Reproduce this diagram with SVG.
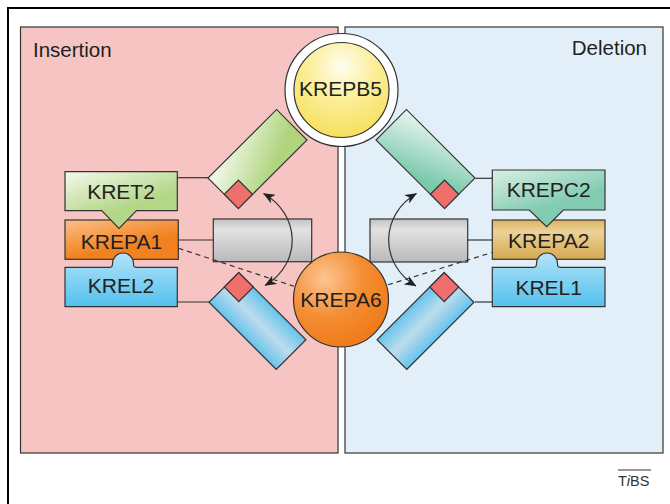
<svg xmlns="http://www.w3.org/2000/svg" width="670" height="504" viewBox="0 0 670 504">
<defs>
<style>
.lbl{font-family:"Liberation Sans",Arial,sans-serif;font-size:21px;fill:#231f20;text-anchor:middle}
.ttl{font-family:"Liberation Sans",Arial,sans-serif;font-size:20.5px;fill:#231f20}
.edge{stroke:#333;stroke-width:1.2}
.conn{stroke:#333;stroke-width:1.2;fill:none}
.red{fill:#ee6f6c;stroke:#333;stroke-width:1.2}
</style>
<marker id="ah" viewBox="0 0 12 10" refX="11.5" refY="5" markerWidth="12" markerHeight="10" markerUnits="userSpaceOnUse" orient="auto-start-reverse">
<path d="M0,0 L12,5 L0,10 L3.5,5 Z" fill="#222"/>
</marker>
<radialGradient id="gYel" cx="0.5" cy="0.25" r="0.75">
<stop offset="0" stop-color="#fffdf2"/><stop offset="0.45" stop-color="#fcef9c"/><stop offset="1" stop-color="#f6df5e"/>
</radialGradient>
<radialGradient id="gOra" cx="0.33" cy="0.28" r="0.75">
<stop offset="0" stop-color="#fcc592"/><stop offset="0.55" stop-color="#f48d32"/><stop offset="1" stop-color="#ef7b1a"/>
</radialGradient>
<linearGradient id="gGrn" x1="0" y1="0" x2="0.45" y2="0.7">
<stop offset="0" stop-color="#f4f9ee"/><stop offset="1" stop-color="#b3d786"/>
</linearGradient>
<linearGradient id="gTeal" x1="0" y1="0" x2="0.45" y2="0.7">
<stop offset="0" stop-color="#d9efe5"/><stop offset="1" stop-color="#80cbb1"/>
</linearGradient>
<linearGradient id="gOrB" x1="0" y1="0" x2="0.45" y2="0.7">
<stop offset="0" stop-color="#fcc08a"/><stop offset="1" stop-color="#f28220"/>
</linearGradient>
<linearGradient id="gTan" x1="0" y1="0" x2="0" y2="1">
<stop offset="0" stop-color="#dcb462"/><stop offset="0.3" stop-color="#edd197"/><stop offset="1" stop-color="#d4a84f"/>
</linearGradient>
<linearGradient id="gBlu" x1="0" y1="0" x2="0" y2="1">
<stop offset="0" stop-color="#b5e3f8"/><stop offset="1" stop-color="#52c1ee"/>
</linearGradient>
<linearGradient id="gGray" x1="0" y1="0" x2="0" y2="1">
<stop offset="0" stop-color="#c2c2c2"/><stop offset="0.25" stop-color="#e2e2e2"/><stop offset="1" stop-color="#b9b9b9"/>
</linearGradient>
<linearGradient id="gRG" x1="0" y1="0" x2="0.75" y2="0.75">
<stop offset="0" stop-color="#f6faf0"/><stop offset="1" stop-color="#afd47d"/>
</linearGradient>
<linearGradient id="gRT" x1="0" y1="0" x2="0.75" y2="0.75">
<stop offset="0" stop-color="#eaf6f1"/><stop offset="1" stop-color="#7ccaae"/>
</linearGradient>
<linearGradient id="gRB" x1="0" y1="0" x2="0" y2="1">
<stop offset="0" stop-color="#66c4ec"/><stop offset="0.5" stop-color="#bddcec"/><stop offset="1" stop-color="#66c4ec"/>
</linearGradient>
</defs>

<rect x="0" y="0" width="670" height="504" fill="#fff"/>
<rect x="8" y="8" width="700" height="540" fill="none" stroke="#000" stroke-width="2"/>

<g id="panel-insertion">
<rect x="20.5" y="27" width="317.5" height="426" fill="#f6c5c3" class="edge"/>
<text class="ttl" x="33" y="57">Insertion</text>
</g>
<g id="panel-deletion">
<rect x="345" y="27" width="318" height="426" fill="#e3eff8" class="edge"/>
<text class="ttl" x="647" y="55" text-anchor="end">Deletion</text>
</g>

<g id="green-domain">
<g transform="translate(257.5,159) rotate(-45)">
<rect x="-48.5" y="-21.5" width="97" height="43" fill="url(#gRG)" class="edge"/>
<rect x="-48.5" y="1.5" width="20" height="20" class="red"/>
</g>
</g>
<g id="teal-domain">
<g transform="translate(425.5,159) rotate(45)">
<rect x="-48.5" y="-21.5" width="97" height="43" fill="url(#gRT)" class="edge"/>
<rect x="28.5" y="1.5" width="20" height="20" class="red"/>
</g>
</g>
<g id="blue-domain-left">
<g transform="translate(257.5,321) rotate(45)">
<rect x="-47.5" y="-21" width="95" height="42" fill="url(#gRB)" class="edge"/>
<rect x="-47.5" y="-21" width="20.5" height="20.5" class="red"/>
</g>
</g>
<g id="blue-domain-right">
<g transform="translate(425.5,321) rotate(-45)">
<rect x="-47.5" y="-21" width="95" height="42" fill="url(#gRB)" class="edge"/>
<rect x="27" y="-21" width="20.5" height="20.5" class="red"/>
</g>
</g>
<g id="gray-left">
<rect x="213.3" y="219" width="98.4" height="42.7" fill="url(#gGray)" class="edge"/>
</g>
<g id="gray-right">
<rect x="370" y="219" width="97.7" height="43" fill="url(#gGray)" class="edge"/>
</g>

<g id="KREPA1">
<rect x="65" y="220" width="113.3" height="39.3" fill="url(#gOrB)" class="edge"/>
<text class="lbl" x="121.5" y="249.3">KREPA1</text>
</g>
<g id="KRET2">
<path d="M65,171.7 H177.3 V210.7 H136.5 L119,228.3 L101.7,210.7 H65 Z" fill="url(#gGrn)" class="edge"/>
<text class="lbl" x="121" y="199.3">KRET2</text>
</g>
<g id="KREL2">
<path d="M65,267.3 H110 C112,267.3 112.5,265.5 112.5,263.5 A10.5,10.5 0 0 1 133.5,263.5 C133.5,265.5 134,267.3 136,267.3 H177.3 V306.7 H65 Z" fill="url(#gBlu)" class="edge"/>
<text class="lbl" x="121" y="293.3">KREL2</text>
</g>

<g id="KREPA2">
<rect x="492.3" y="220" width="112.7" height="39.3" fill="url(#gTan)" class="edge"/>
<text class="lbl" x="548.7" y="247.5">KREPA2</text>
</g>
<g id="KREPC2">
<path d="M492.3,170 H605 V210 H563.3 L546.7,226.7 L529.3,210 H492.3 Z" fill="url(#gTeal)" class="edge"/>
<text class="lbl" x="548.7" y="197.3">KREPC2</text>
</g>
<g id="KREL1">
<path d="M492.3,267.3 H534 C536,267.3 536.5,265.5 536.5,263.5 A10.5,10.5 0 0 1 557.5,263.5 C557.5,265.5 558,267.3 560,267.3 H605 V306.7 H492.3 Z" fill="url(#gBlu)" class="edge"/>
<text class="lbl" x="548.7" y="295">KREL1</text>
</g>

<g id="KREPB5">
<circle cx="341.5" cy="90" r="56.5" fill="#fff" class="edge"/>
<circle cx="341.5" cy="90" r="47.5" fill="url(#gYel)" class="edge"/>
<text class="lbl" x="340.5" y="96">KREPB5</text>
</g>
<g id="KREPA6">
<circle cx="341" cy="299.5" r="47.5" fill="url(#gOra)" class="edge"/>
<text class="lbl" x="341" y="307">KREPA6</text>
</g>

<g id="connectors">
<line class="conn" x1="177.3" y1="177.7" x2="208.5" y2="177.7"/>
<line class="conn" x1="178.3" y1="240" x2="213.3" y2="240"/>
<line class="conn" x1="177.3" y1="302" x2="209.5" y2="302"/>
<line class="conn" x1="475.5" y1="178.3" x2="492.3" y2="178.3"/>
<line class="conn" x1="467.7" y1="240" x2="492.3" y2="240"/>
<line class="conn" x1="475" y1="302" x2="492.3" y2="302"/>
<line class="conn" x1="178.5" y1="248.3" x2="294" y2="286.3" stroke-dasharray="5,4"/>
<line class="conn" x1="388" y1="284.8" x2="492" y2="252.5" stroke-dasharray="5,4"/>
<path class="conn" d="M263.5,193.5 C300,214 303,263 265,285.5" marker-start="url(#ah)" marker-end="url(#ah)"/>
<path class="conn" d="M416.5,193.5 C381,214 378,263 416,286" marker-start="url(#ah)" marker-end="url(#ah)"/>
</g>

<g id="credit">
<text x="618" y="485.7" font-family="&quot;Liberation Sans&quot;,Arial,sans-serif" font-size="14.5" fill="#333">T<tspan font-style="italic">i</tspan>BS</text>
<line x1="618" y1="470" x2="651" y2="470" stroke="#333" stroke-width="1"/>
</g>
</svg>
